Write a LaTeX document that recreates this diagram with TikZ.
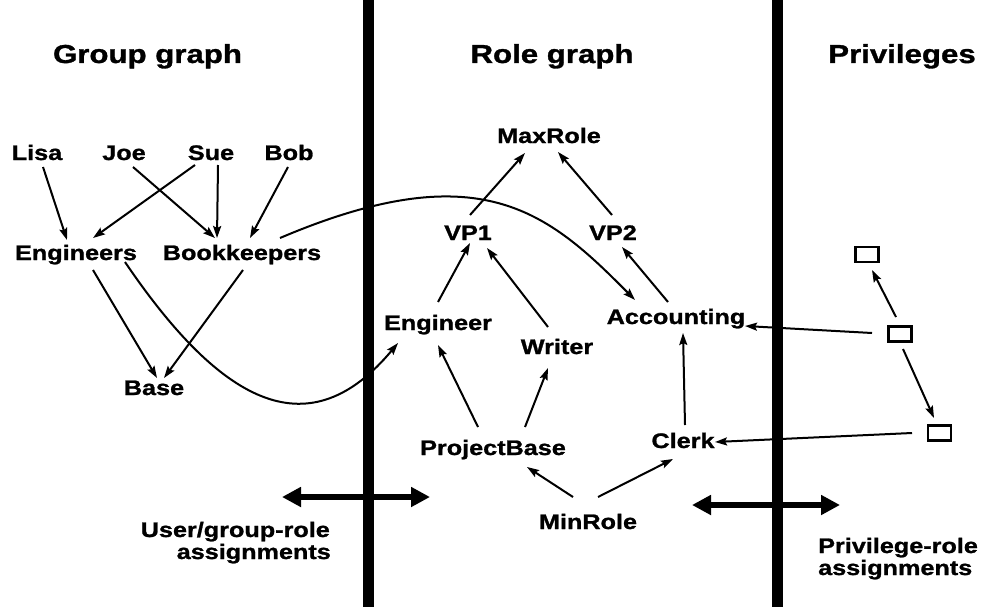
\documentclass[tikz,border=0pt]{standalone}
\usepackage{fontspec}
\setmainfont{Liberation Sans}[FakeStretch=1.2, FakeBold=1.2]
\usetikzlibrary{arrows.meta}

\begin{document}
\begin{tikzpicture}[
  x=1pt, y=-1pt,
  lbl/.style={font=\fontsize{21}{22}\selectfont\bfseries, inner sep=3.5pt,
              text height=15.75pt, text depth=5.25pt, anchor=base},
  title/.style={font=\fontsize{26}{28}\selectfont\bfseries, inner sep=0pt, anchor=base},
  note/.style={font=\fontsize{21}{22}\selectfont\bfseries, inner sep=0pt},
  privbox/.style={draw, line width=2.5pt, minimum width=23pt, minimum height=15pt, inner sep=0pt},
  conn/.style={line width=2pt, -{Stealth[length=12pt,width=8pt,inset=2pt]}},
  dbl/.style={line width=5.5pt,
              {Triangle[length=19pt,width=19pt]}-{Triangle[length=19pt,width=19pt]}},
  divider/.style={line width=11pt}
]
\useasboundingbox[fill=white] (0,0) rectangle (981,607);

% column dividers
\draw[divider] (368.5,0) -- (368.5,607);
\draw[divider] (777.5,0) -- (777.5,607);

% column titles
\node[title] (tgroup) at (147.5,63) {Group graph};
\node[title] (trole)  at (552,63)   {Role graph};
\node[title] (tpriv)  at (902,63)   {Privileges};

% group graph
\node[lbl] (lisa) at (37,160)  {Lisa};
\node[lbl] (joe)  at (124,160) {Joe};
\node[lbl] (sue)  at (211,160) {Sue};
\node[lbl] (bob)  at (289,160) {Bob};
\node[lbl] (eng)  at (76,260)  {Engineers};
\node[lbl] (bk)   at (242,260) {Bookkeepers};
\node[lbl] (basegrp) at (154,395) {Base};

% role graph
\node[lbl] (maxrole) at (549,143) {MaxRole};
\node[lbl] (vp1)     at (468,240) {VP1};
\node[lbl] (vp2)     at (613,240) {VP2};
\node[lbl] (engr)    at (438,330) {Engineer};
\node[lbl] (writer)  at (557,354) {Writer};
\node[lbl] (acc)     at (676,324) {Accounting};
\node[lbl] (pbase)   at (493,455) {ProjectBase};
\node[lbl] (clerk)   at (683,448) {Clerk};
\node[lbl] (minrole) at (588,529) {MinRole};

% privileges
\node[privbox] (p1) at (867,254.5) {};
\node[privbox] (p2) at (900,334) {};
\node[privbox] (p3) at (939.5,433) {};

% group membership edges
\draw[conn] ([shift={(6,7)}]lisa.base)  -- ([shift={(-9,-20)}]eng.base);
\draw[conn] ([shift={(-16,5)}]sue.base) -- ([shift={(17,-22)}]eng.base);
\draw[conn] ([shift={(9,7)}]joe.base)   -- ([shift={(-27,-22)}]bk.base);
\draw[conn] ([shift={(7,5)}]sue.base)   -- ([shift={(-25,-22)}]bk.base);
\draw[conn] ([shift={(-1,7)}]bob.base)  -- ([shift={(8,-22)}]bk.base);
\draw[conn] ([shift={(17,10)}]eng.base) -- ([shift={(3,-17)}]basegrp.base);
\draw[conn] ([shift={(1,10)}]bk.base)   -- ([shift={(10,-17)}]basegrp.base);

% role hierarchy edges
\draw[conn] ([shift={(2,-25)}]vp1.base)     -- ([shift={(-24,10)}]maxrole.base);
\draw[conn] ([shift={(-1,-25)}]vp2.base)    -- ([shift={(9,9)}]maxrole.base);
\draw[conn] ([shift={(0,-28)}]engr.base)    -- ([shift={(2,3)}]vp1.base);
\draw[conn] ([shift={(-9,-27)}]writer.base) -- ([shift={(19,8)}]vp1.base);
\draw[conn] ([shift={(-8,-22)}]acc.base)    -- ([shift={(9,7)}]vp2.base);
\draw[conn] ([shift={(-15,-28)}]pbase.base) -- ([shift={(0,15)}]engr.base);
\draw[conn] ([shift={(32,-28)}]pbase.base)  -- ([shift={(-9,14)}]writer.base);
\draw[conn] ([shift={(2,-23)}]clerk.base)   -- ([shift={(7,9)}]acc.base);
\draw[conn] ([shift={(-15,-32)}]minrole.base) -- ([shift={(34,12)}]pbase.base);
\draw[conn] ([shift={(10,-32)}]minrole.base)  -- ([shift={(-10,11)}]clerk.base);

% privilege edges
\draw[conn] ([shift={(-4,-17)}]p2.center)  -- ([shift={(5,15.5)}]p1.center);
\draw[conn] ([shift={(3,15)}]p2.center)    -- ([shift={(-5.5,-15)}]p3.center);
\draw[conn] ([shift={(-28,-1)}]p2.center)  -- ([shift={(69,2)}]acc.base);
\draw[conn] ([shift={(-27.5,0)}]p3.center) -- ([shift={(32,-6)}]clerk.base);

% user/group-role assignments
\draw[conn] ([shift={(38,-22)}]bk.base) .. controls (480,153) and (548,212) .. ([shift={(-41,-24)}]acc.base);
\draw[conn] ([shift={(49,2)}]eng.base) .. controls (224,408) and (310.5,448) .. ([shift={(-40,13)}]engr.base);

% assignment relations across the dividers
\coordinate (ugl) at (282,497);
\coordinate (ugr) at (430,497);
\coordinate (prl) at (692,505);
\coordinate (prr) at (840,505);
\draw[dbl] (ugl) -- (ugr);
\draw[dbl] (prl) -- (prr);

\node[note, anchor=base east] (ug1) at (330,537) {User/group-role};
\node[note, anchor=base east] (ug2) at (331,559) {assignments};
\node[note, anchor=base west] (pr1) at (818,553) {Privilege-role};
\node[note, anchor=base west] (pr2) at (818,575) {assignments};
\end{tikzpicture}
\end{document}
